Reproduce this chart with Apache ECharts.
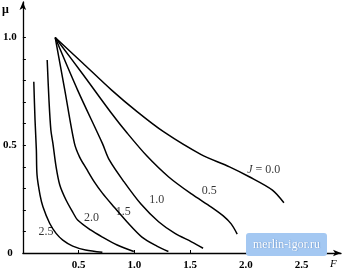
<!DOCTYPE html>
<html>
<head>
<meta charset="utf-8">
<script src="https://cdn.jsdelivr.net/npm/echarts@6/dist/echarts.min.js"></script>
<style>html,body{margin:0;padding:0;background:#fff}#c{width:342px;height:272px}</style>
</head>
<body>
<div id="c"></div>
<script>
// Curves mu(F) for several J values
const J00 = [[0.29,1.0],[0.536,0.882],[0.796,0.756],[1.024,0.656],[1.261,0.563],[1.595,0.458],[1.853,0.400],[2.030,0.354],[2.238,0.292],[2.341,0.233]];
const J05 = [[0.29,1.0],[0.536,0.831],[0.793,0.650],[0.935,0.557],[1.113,0.450],[1.308,0.353],[1.512,0.274],[1.690,0.213],[1.797,0.172],[1.868,0.135],[1.922,0.088]];
const J10 = [[0.29,1.0],[0.491,0.756],[0.713,0.509],[0.775,0.432],[0.906,0.331],[1.059,0.227],[1.217,0.145],[1.364,0.091],[1.512,0.052],[1.616,0.022]];
const J15 = [[0.29,1.0],[0.376,0.756],[0.462,0.510],[0.509,0.445],[0.571,0.390],[0.642,0.329],[0.713,0.278],[0.802,0.223],[0.935,0.144],[1.068,0.074],[1.202,0.032],[1.305,0.007]];
const J20 = [[0.218,0.896],[0.234,0.710],[0.251,0.571],[0.269,0.510],[0.298,0.400],[0.331,0.316],[0.387,0.246],[0.447,0.190],[0.491,0.153],[0.607,0.107],[0.713,0.074],[0.846,0.037],[0.995,0.007]];
const J25 = [[0.098,0.795],[0.109,0.617],[0.121,0.478],[0.127,0.362],[0.154,0.269],[0.180,0.215],[0.240,0.138],[0.298,0.091],[0.358,0.060],[0.447,0.032],[0.562,0.014],[0.713,0.003]];
// curve labels: [F, mu, text]
const curveLabels = [[0.207,0.097,'2.5'],[0.615,0.162,'2.0'],[0.90,0.19,'1.5'],[1.20,0.246,'1.0'],[1.672,0.288,'0.5'],[2.16,0.385,'J00']];
const xTicks = [0.5,1.0,1.5,2.0,2.5];
const yTicks = [0.1,0.2,0.3,0.4,0.5,0.6,0.7,0.8,0.9,1.0];
const yLabels = [0,0.5,1.0];

const FONT = 'Liberation Serif';
const chart = echarts.init(document.getElementById('c'), null, {renderer:'canvas'});
const lineSeries = [J00,J05,J10,J15,J20,J25].map(d => ({
  type:'line', data:d, showSymbol:false, symbol:'none', smooth:0.3,
  lineStyle:{color:'#000', width:1.5}, z:3, silent:true
}));
chart.setOption({
  animation:false,
  backgroundColor:'#fff',
  grid:{left:19.7, right:1, top:2, bottom:19},
  xAxis:{type:'value', min:0, max:2.853,
    axisLine:{show:true, lineStyle:{color:'#000', width:1.3}, symbol:['none','arrow'], symbolSize:[5,8]},
    axisTick:{show:true, inside:true, length:3, customValues:xTicks, lineStyle:{color:'#000'}},
    axisLabel:{show:true, customValues:xTicks, margin:7, color:'#000', fontFamily:FONT, fontSize:11, fontWeight:'bold', formatter:v=>v.toFixed(1)},
    splitLine:{show:false}},
  yAxis:{type:'value', min:0, max:1.165,
    axisLine:{show:true, lineStyle:{color:'#000', width:1.3}, symbol:['none','arrow'], symbolSize:[5,8]},
    axisTick:{show:true, inside:true, length:3, customValues:yTicks, lineStyle:{color:'#000'}},
    axisLabel:{show:true, customValues:yLabels, margin:13, align:'center', color:'#000', fontFamily:FONT, fontSize:11, fontWeight:'bold', formatter:v=>v===0?'0':v.toFixed(1)},
    splitLine:{show:false}},
  series: lineSeries.concat([{
    type:'scatter', symbolSize:1, itemStyle:{color:'rgba(0,0,0,0)'}, silent:true, z:4,
    data: curveLabels.map(l=>({value:[l[0],l[1]], name:l[2]})),
    label:{show:true, position:'inside', color:'#000', fontFamily:FONT, fontSize:12,
      formatter:p=>p.name==='J00' ? '{j|J} = 0.0' : p.name,
      rich:{j:{fontStyle:'italic', fontFamily:FONT, fontSize:12, color:'#000'}}}
  }]),
  graphic:[
    {type:'text', left:2, top:4, style:{text:'μ', font:'bold 12px "Liberation Serif"', fill:'#000'}},
    {type:'text', left:330, top:259, style:{text:'F', font:'italic 11px "Liberation Serif"', fill:'#000'}},
    {type:'rect', shape:{x:246, y:233, width:81, height:23, r:3}, style:{fill:'#a4c8f2'}, z:10},
    {type:'text', x:286.5, y:244.5, style:{text:'merlin-igor.ru', font:'12px "Liberation Serif"', fill:'#fff', align:'center', verticalAlign:'middle', textShadowColor:'#5a86c0', textShadowBlur:1, textShadowOffsetX:0.5, textShadowOffsetY:0.5}, z:11}
  ]
});
</script>
</body>
</html>
